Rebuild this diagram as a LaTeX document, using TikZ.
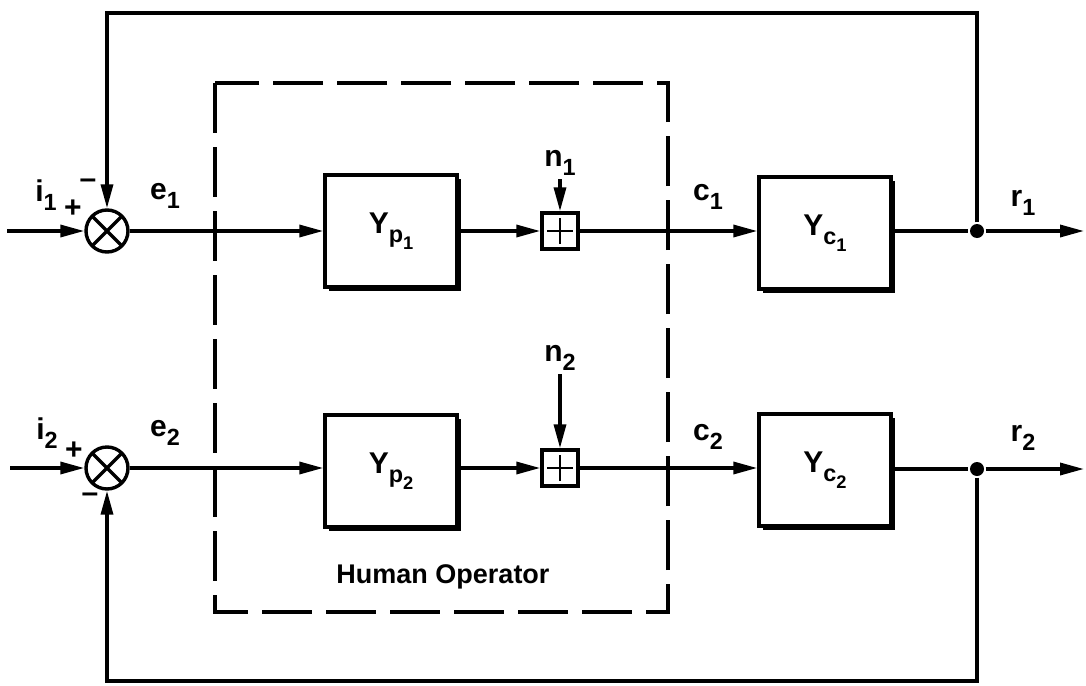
\documentclass[tikz,border=0pt]{standalone}
\usepackage{fontspec}
\setmainfont{Liberation Sans}
\usetikzlibrary{positioning,arrows.meta,shadows}
% lowered subscript, larger than \textsubscript
\newcommand{\lowsub}[1]{\raisebox{-0.55ex}{\fontsize{0.78\dimexpr\fontdimen6\font\relax}{1em}\selectfont #1}}

\begin{document}
\begin{tikzpicture}[x=0.5pt,y=-0.5pt,line width=1.7pt,
    sig/.style={-{Triangle[length=12pt,width=6pt]}},
    blk/.style={draw, fill=white, minimum width=66pt, minimum height=56pt,
        font=\fontsize{15}{17}\selectfont\bfseries,
        drop shadow={shadow xshift=2.2pt, shadow yshift=-2.2pt, fill=black, opacity=1}},
    sumj/.style={circle, draw, fill=white, minimum size=21pt, inner sep=0pt,
        path picture={\draw[line width=1.7pt]
            (path picture bounding box.north west) -- (path picture bounding box.south east)
            (path picture bounding box.north east) -- (path picture bounding box.south west);}},
    addbox/.style={draw, fill=white, minimum size=18pt, inner sep=0pt,
        path picture={\draw[line width=1.4pt]
            ([yshift=6.5pt]path picture bounding box.center) -- ([yshift=-6.5pt]path picture bounding box.center)
            ([xshift=-6.5pt]path picture bounding box.center) -- ([xshift=6.5pt]path picture bounding box.center);}},
    junc/.style={circle, fill, inner sep=0pt, minimum size=7pt},
    lbl/.style={font=\fontsize{15}{17}\selectfont\bfseries, inner sep=1pt}]
    \useasboundingbox (0,0) rectangle (1086,685);
    % Human operator
    \draw[dash pattern=on 25pt off 7pt] (215,83) rectangle (668,612);
    \node[font=\fontsize{13.5}{15}\selectfont\bfseries] (hum) at (443,577) {Human Operator};
    % Upper loop
    \coordinate (in1) at (7,231);
    \node[sumj] (s1) at (107,231) {};
    \node[blk] (yp1) at (391,231) {Y\lowsub{p\lowsub{1}}};
    \node[addbox] (a1) at (560,231) {};
    \node[blk] (yc1) at (825,233) {Y\lowsub{c\lowsub{1}}};
    \node[junc] (d1) at (977,231) {};
    \coordinate (out1) at (1084,231);
    \coordinate (top) at (977,13);
    \node[lbl] (n1) at (560,163) {n\lowsub{1}};
    \node[lbl] (i1) at (46,195) {i\lowsub{1}};
    \node[lbl] (p1) at (73,209) {+};
    \node[lbl] (m1) at (88,184) {–};
    \node[lbl] (e1) at (165,196) {e\lowsub{1}};
    \node[lbl] (c1) at (708,197) {c\lowsub{1}};
    \node[lbl] (r1) at (1023,203) {r\lowsub{1}};
    \draw[sig] (in1) -- (s1);
    \draw[sig] (s1) -- (yp1);
    \draw[sig] (yp1) -- (a1);
    \draw[sig] (n1) -- (a1);
    \draw[sig] (a1) -- (yc1.west |- a1);
    \draw (yc1.east |- d1) -- (d1);
    \draw[sig] (d1) -- (out1);
    \draw[sig] (d1) -- (top) -- (s1 |- top) -- (s1);
    % Lower loop
    \coordinate (in2) at (10,468);
    \node[sumj] (s2) at (107,468) {};
    \node[blk] (yp2) at (391,471) {Y\lowsub{p\lowsub{2}}};
    \node[addbox] (a2) at (560,468) {};
    \node[blk] (yc2) at (825,470) {Y\lowsub{c\lowsub{2}}};
    \node[junc] (d2) at (977,469) {};
    \coordinate (out2) at (1084,469);
    \coordinate (bot) at (977,681);
    \node[lbl] (n2) at (560,358) {n\lowsub{2}};
    \node[lbl] (i2) at (47,433) {i\lowsub{2}};
    \node[lbl] (p2) at (74,451) {+};
    \node[lbl] (m2) at (90,498) {–};
    \node[lbl] (e2) at (165,433) {e\lowsub{2}};
    \node[lbl] (c2) at (708,437) {c\lowsub{2}};
    \node[lbl] (r2) at (1023,438) {r\lowsub{2}};
    \draw[sig] (in2) -- (s2);
    \draw[sig] (s2) -- (yp2.west |- s2);
    \draw[sig] (yp2.east |- a2) -- (a2);
    \draw[sig] (n2) -- (a2);
    \draw[sig] (a2) -- (yc2.west |- a2);
    \draw (yc2.east |- d2) -- (d2);
    \draw[sig] (d2) -- (out2);
    \draw[sig] (d2) -- (bot) -- (s2 |- bot) -- (s2);
\end{tikzpicture}
\end{document}
